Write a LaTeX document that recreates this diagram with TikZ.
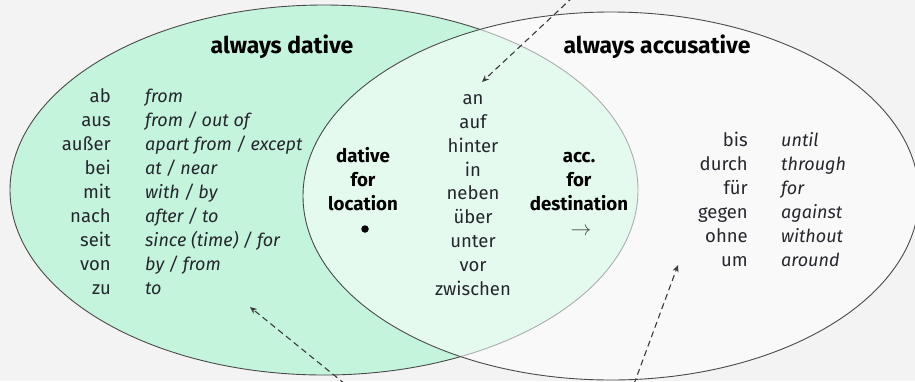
\documentclass[tikz,border=0pt]{standalone}
\usepackage{fontspec}
\setmainfont{Fira Sans}
\usetikzlibrary{arrows.meta}
\definecolor{bggrey}{HTML}{F3F3F3}
\definecolor{datgreen}{HTML}{C4F5DC}
\definecolor{rimgrey}{HTML}{4A4A4A}
\definecolor{inkgrey}{HTML}{26262E}

\begin{document}
\begin{tikzpicture}[x=1pt,y=-1pt,
  prep/.style={anchor=base east,inner sep=0pt,text=inkgrey,font=\fontsize{18.5}{22}\selectfont},
  mid/.style={anchor=base,inner sep=0pt,text=inkgrey,font=\fontsize{18.5}{22}\selectfont},
  gloss/.style={anchor=base west,inner sep=0pt,text=inkgrey,font=\fontsize{18}{22}\selectfont\itshape},
  head/.style={anchor=base,inner sep=0pt,text=black,font=\fontsize{23}{27}\selectfont\bfseries},
  sub/.style={anchor=base,inner sep=0pt,text=black,font=\fontsize{18.7}{22}\selectfont\bfseries},
  hint/.style={dash pattern=on 6pt off 4pt,line width=1.1pt,draw=rimgrey!80!black,-{Stealth[length=7pt,width=6pt]}}]
\fill[bggrey] (0,0) rectangle (915,381);
\useasboundingbox (0,0) rectangle (915,381);
\draw[fill=datgreen,draw=rimgrey,line width=.9pt] (324,190) ellipse (314 and 185);
\draw[fill=white,fill opacity=.55,draw=rimgrey,line width=.9pt] (611,196) ellipse (308 and 184);
% headings
\node[head] (dat) at (282,53) {always dative};
\node[head] (acc) at (657,53) {always accusative};
% always dative
\node[prep] (ab) at (111,102) {ab};
\node[gloss] (abG) at (145,102) {from};
\node[prep] (aus) at (111,126) {aus};
\node[gloss] (ausG) at (145,126) {from / out of};
\node[prep] (ausser) at (111,150) {außer};
\node[gloss] (ausserG) at (145,150) {apart from / except};
\node[prep] (bei) at (111,174) {bei};
\node[gloss] (beiG) at (145,174) {at / near};
\node[prep] (mit) at (111,198) {mit};
\node[gloss] (mitG) at (145,198) {with / by};
\node[prep] (nach) at (111,222) {nach};
\node[gloss] (nachG) at (145,222) {after / to};
\node[prep] (seit) at (111,246) {seit};
\node[gloss] (seitG) at (145,246) {since (time) / for};
\node[prep] (von) at (111,270) {von};
\node[gloss] (vonG) at (145,270) {by / from};
\node[prep] (zu) at (111,294) {zu};
\node[gloss] (zuG) at (145,294) {to};
% two-way
\node[sub] (loc1) at (363,162) {dative};
\node[sub] (loc2) at (363,186) {for};
\node[sub] (loc3) at (363,210) {location};
\node[circle,fill=black,inner sep=0pt,minimum size=7.5pt] (dot) at (365,229) {};
\node[sub] (dest1) at (579,162) {acc.};
\node[sub] (dest2) at (579,186) {for};
\node[sub] (dest3) at (579,210) {destination};
\node[text=rimgrey,inner sep=0pt,font=\fontsize{21}{24}\selectfont] (arr) at (581,232) {$\rightarrow$};
\node[mid] (an) at (473,104) {an};
\node[mid] (auf) at (473,128) {auf};
\node[mid] (hinter) at (473,152) {hinter};
\node[mid] (in) at (473,176) {in};
\node[mid] (neben) at (473,199) {neben};
\node[mid] (ueber) at (473,223) {über};
\node[mid] (unter) at (473,247) {unter};
\node[mid] (vor) at (473,271) {vor};
\node[mid] (zwischen) at (473,295) {zwischen};
% always accusative
\node[prep] (bis) at (748,146) {bis};
\node[gloss] (bisG) at (781,146) {until};
\node[prep] (durch) at (748,170) {durch};
\node[gloss] (durchG) at (781,170) {through};
\node[prep] (fuer) at (748,194) {für};
\node[gloss] (fuerG) at (781,194) {for};
\node[prep] (gegen) at (748,218) {gegen};
\node[gloss] (gegenG) at (781,218) {against};
\node[prep] (ohne) at (748,242) {ohne};
\node[gloss] (ohneG) at (781,242) {without};
\node[prep] (um) at (748,266) {um};
\node[gloss] (umG) at (781,266) {around};
% pointers
\coordinate (topIn) at (573,-3);
\coordinate (topOut) at (482,82);
\coordinate (datIn) at (345,384);
\coordinate (datOut) at (250,307);
\coordinate (accIn) at (634,384);
\coordinate (accOut) at (678,265);
\draw[hint] (topIn) -- (topOut);
\draw[hint] (datIn) -- (datOut);
\draw[hint] (accIn) -- (accOut);
\end{tikzpicture}
\end{document}
